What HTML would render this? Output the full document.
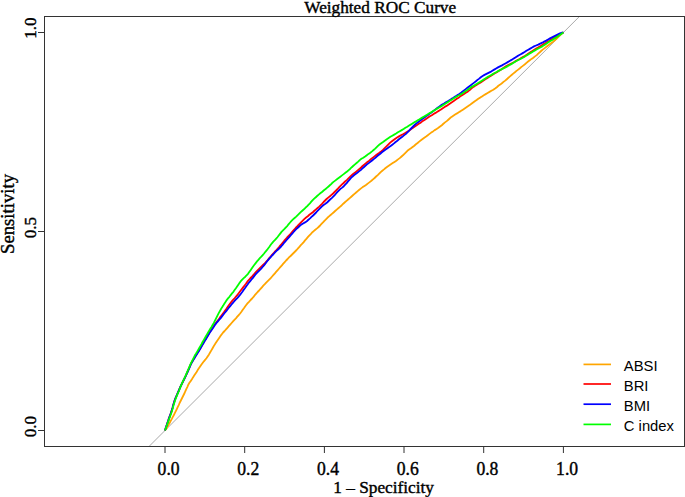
<!DOCTYPE html>
<html><head><meta charset="utf-8"><style>
html,body{margin:0;padding:0;background:#fff;width:685px;height:497px;overflow:hidden}
svg{display:block}
.s{font-family:"Liberation Serif",serif}
.a{font-family:"Liberation Sans",sans-serif}
</style></head><body>
<svg width="685" height="497" viewBox="0 0 685 497">
<rect width="685" height="497" fill="#fff"/>
<!-- diagonal -->
<line x1="149.06" y1="446.43" x2="579.34" y2="16.57" stroke="#a9a9a9" stroke-width="1"/>
<!-- frame -->
<rect x="44.5" y="16.5" width="640" height="430" fill="none" stroke="#333" stroke-width="1"/>
<!-- x ticks -->
<g stroke="#333" stroke-width="1">
<line x1="165" y1="446.5" x2="165" y2="453"/>
<line x1="244.7" y1="446.5" x2="244.7" y2="453"/>
<line x1="324.4" y1="446.5" x2="324.4" y2="453"/>
<line x1="404" y1="446.5" x2="404" y2="453"/>
<line x1="483.7" y1="446.5" x2="483.7" y2="453"/>
<line x1="563.4" y1="446.5" x2="563.4" y2="453"/>
<line x1="44.5" y1="32.5" x2="38" y2="32.5"/>
<line x1="44.5" y1="231.5" x2="38" y2="231.5"/>
<line x1="44.5" y1="430.5" x2="38" y2="430.5"/>
</g>
<g class="s" fill="#000" stroke="#000" stroke-width="0.4" text-anchor="middle">
<g font-size="17.6">
<text transform="translate(168.6,474.7) scale(1,1.05)">0.0</text>
<text transform="translate(248.3,474.7) scale(1,1.05)">0.2</text>
<text transform="translate(328,474.7) scale(1,1.05)">0.4</text>
<text transform="translate(407.7,474.7) scale(1,1.05)">0.6</text>
<text transform="translate(487.4,474.7) scale(1,1.05)">0.8</text>
<text transform="translate(567.1,474.7) scale(1,1.05)">1.0</text>
<text transform="translate(35.5,28.2) rotate(-90) scale(0.97,1)">1.0</text>
<text transform="translate(35.5,227.7) rotate(-90) scale(0.97,1)">0.5</text>
<text transform="translate(35.5,426.6) rotate(-90) scale(0.97,1)">0.0</text>
</g>
<text transform="translate(383.6,493.4)" font-size="17.3">1 <tspan dy="-0.7">–</tspan><tspan dy="0.7"> Specificity</tspan></text>
<text transform="translate(14.1,214) rotate(-90)" font-size="18.7">Sensitivity</text>
<text transform="translate(380.2,12.5)" font-size="17.25">Weighted ROC Curve</text>
</g>
<!-- legend -->
<g stroke-width="1.7">
<line x1="583.5" y1="364.4" x2="611" y2="364.4" stroke="#ffa500"/>
<line x1="583.5" y1="384" x2="611" y2="384" stroke="#ff0000"/>
<line x1="583.5" y1="404.2" x2="611" y2="404.2" stroke="#0000ff"/>
<line x1="583.5" y1="424.4" x2="611" y2="424.4" stroke="#00ff00"/>
</g>
<g class="a" font-size="14.8" fill="#000">
<text transform="translate(623.8,370.9) scale(1,1.03)">ABSI</text>
<text transform="translate(623.8,391.0) scale(1,1.03)">BRI</text>
<text transform="translate(623.8,411.3) scale(1,1.03)">BMI</text>
<text transform="translate(623.8,431.0) scale(1,1.03)">C index</text>
</g>
<!-- curves -->
<g id="curves" fill="none" stroke-width="1.8" stroke-linejoin="round">
<path d="M165.0,430.5 L166.3,428.7 L167.4,426.8 L168.5,424.9 L169.6,423.0 L170.6,421.0 L171.7,419.1 L172.7,417.1 L173.8,415.2 L174.8,413.2 L175.8,411.2 L176.8,409.2 L177.7,407.1 L178.7,405.1 L179.6,403.0 L180.6,401.0 L181.6,399.0 L182.6,397.0 L183.6,395.0 L184.6,393.0 L185.5,390.9 L186.4,388.8 L187.4,386.8 L188.3,384.7 L189.4,382.8 L190.7,381.1 L191.9,379.3 L193.0,377.4 L194.2,375.6 L195.4,373.8 L196.6,372.0 L197.7,370.1 L198.9,368.3 L200.1,366.5 L201.3,364.7 L202.6,363.0 L203.9,361.3 L205.3,359.7 L206.6,358.0 L207.8,356.2 L209.0,354.4 L210.1,352.5 L211.2,350.6 L212.3,348.7 L213.4,346.8 L214.5,344.9 L215.7,343.1 L216.9,341.3 L218.1,339.5 L219.3,337.7 L220.5,335.9 L221.8,334.2 L223.1,332.5 L224.6,331.0 L226.0,329.4 L227.4,327.8 L228.8,326.2 L230.2,324.6 L231.6,323.0 L233.0,321.4 L234.4,319.8 L235.9,318.3 L237.3,316.7 L238.7,315.1 L240.1,313.5 L241.4,311.8 L242.6,310.0 L243.9,308.3 L245.1,306.5 L246.4,304.8 L247.7,303.1 L249.2,301.6 L250.6,300.0 L252.1,298.5 L253.5,296.9 L254.8,295.2 L256.2,293.6 L257.6,292.0 L259.1,290.5 L260.5,288.9 L261.9,287.3 L263.3,285.7 L264.8,284.2 L266.2,282.6 L267.7,281.1 L269.2,279.6 L270.7,278.1 L272.1,276.5 L273.5,274.9 L274.9,273.3 L276.3,271.7 L277.7,270.1 L279.1,268.5 L280.5,266.9 L281.9,265.3 L283.3,263.7 L284.7,262.1 L286.1,260.5 L287.6,259.0 L289.0,257.4 L290.6,256.0 L292.1,254.5 L293.6,253.0 L295.1,251.5 L296.6,250.0 L298.0,248.4 L299.4,246.8 L300.8,245.2 L302.3,243.7 L303.7,242.1 L305.0,240.4 L306.4,238.8 L307.8,237.2 L309.2,235.6 L310.7,234.1 L312.1,232.5 L313.7,231.1 L315.3,229.7 L317.0,228.4 L318.6,227.0 L320.1,225.5 L321.5,223.9 L323.0,222.4 L324.4,220.8 L325.9,219.3 L327.4,217.8 L329.0,216.4 L330.6,215.0 L332.2,213.6 L333.8,212.2 L335.4,210.8 L337.0,209.4 L338.6,208.0 L340.2,206.6 L341.8,205.2 L343.3,203.7 L344.9,202.3 L346.5,200.9 L348.1,199.5 L349.7,198.1 L351.3,196.7 L352.9,195.3 L354.5,193.9 L356.1,192.5 L357.7,191.1 L359.3,189.7 L361.0,188.4 L362.7,187.1 L364.5,185.9 L366.3,184.7 L368.0,183.4 L369.7,182.1 L371.4,180.8 L373.0,179.4 L374.6,178.0 L376.1,176.5 L377.7,175.1 L379.2,173.6 L380.7,172.1 L382.3,170.7 L384.0,169.4 L385.6,168.0 L387.3,166.7 L389.1,165.5 L390.9,164.3 L392.7,163.1 L394.5,161.9 L396.3,160.7 L398.0,159.4 L399.7,158.1 L401.3,156.7 L402.9,155.3 L404.4,153.8 L405.9,152.3 L407.4,150.8 L409.1,149.5 L410.9,148.3 L412.6,147.0 L414.3,145.7 L415.9,144.3 L417.6,143.0 L419.2,141.6 L420.9,140.3 L422.6,139.0 L424.3,137.7 L426.1,136.5 L427.8,135.2 L429.5,133.9 L431.2,132.6 L433.0,131.4 L434.7,130.1 L436.6,129.0 L438.4,127.8 L440.1,126.5 L441.8,125.2 L443.4,123.8 L445.0,122.4 L446.7,121.1 L448.3,119.7 L449.9,118.3 L451.5,116.9 L453.3,115.7 L455.1,114.5 L457.0,113.4 L458.8,112.2 L460.7,111.1 L462.5,109.9 L464.3,108.7 L466.1,107.5 L467.9,106.3 L469.7,105.1 L471.4,103.8 L473.1,102.5 L474.8,101.2 L476.6,100.0 L478.3,98.7 L480.2,97.6 L482.0,96.4 L483.8,95.2 L485.7,94.1 L487.6,93.0 L489.5,91.9 L491.4,90.8 L493.3,89.7 L495.1,88.5 L496.8,87.2 L498.4,85.8 L500.2,84.6 L501.9,83.3 L503.5,81.9 L505.2,80.6 L506.8,79.2 L508.4,77.8 L510.0,76.4 L511.6,75.0 L513.2,73.6 L514.9,72.3 L516.5,70.9 L518.2,69.6 L519.9,68.3 L521.5,66.9 L523.2,65.6 L524.9,64.3 L526.5,62.9 L528.1,61.5 L529.8,60.2 L531.5,58.9 L533.3,57.7 L535.0,56.4 L536.7,55.1 L538.2,53.6 L539.8,52.2 L541.4,50.8 L543.0,49.4 L544.7,48.1 L546.4,46.8 L548.1,45.5 L549.8,44.2 L551.5,42.9 L553.2,41.6 L554.8,40.2 L556.4,38.8 L557.9,37.3 L559.5,35.9 L561.0,34.4 L562.5,32.9 L563.4,32.5" stroke="#ffa500"/>
<path d="M165.0,430.5 L165.7,428.1 L166.5,425.9 L167.2,423.6 L168.0,421.4 L168.7,419.1 L169.5,416.9 L170.3,414.7 L171.1,412.5 L171.8,410.2 L172.5,407.9 L173.1,405.5 L173.8,403.2 L174.5,400.9 L175.3,398.7 L176.2,396.6 L177.1,394.5 L178.0,392.4 L178.9,390.3 L179.8,388.2 L180.7,386.1 L181.7,384.1 L182.7,382.1 L183.7,380.1 L184.7,378.1 L185.6,376.0 L186.6,374.0 L187.5,371.9 L188.4,369.8 L189.3,367.7 L190.2,365.6 L191.1,363.5 L192.2,361.6 L193.3,359.7 L194.4,357.8 L195.5,355.9 L196.7,354.1 L197.8,352.2 L199.0,350.4 L200.1,348.5 L201.2,346.6 L202.3,344.7 L203.4,342.8 L204.5,340.9 L205.6,339.0 L206.7,337.1 L207.8,335.2 L209.0,333.4 L210.1,331.5 L211.3,329.7 L212.5,327.9 L213.7,326.1 L214.9,324.3 L216.2,322.6 L217.5,320.9 L218.8,319.2 L220.0,317.4 L221.3,315.7 L222.6,314.0 L223.9,312.3 L225.1,310.5 L226.4,308.8 L227.6,307.0 L228.8,305.2 L230.1,303.5 L231.4,301.8 L232.8,300.2 L234.3,298.7 L235.6,297.0 L237.0,295.4 L238.3,293.7 L239.6,292.0 L240.9,290.3 L242.2,288.6 L243.5,286.9 L244.8,285.2 L246.1,283.5 L247.3,281.7 L248.7,280.1 L250.1,278.5 L251.6,277.0 L253.0,275.4 L254.4,273.8 L255.8,272.2 L257.3,270.7 L258.8,269.2 L260.3,267.7 L261.8,266.2 L263.3,264.7 L264.9,263.3 L266.3,261.7 L267.7,260.1 L269.0,258.4 L270.4,256.8 L271.8,255.2 L273.2,253.6 L274.6,252.0 L276.1,250.5 L277.5,248.9 L278.9,247.3 L280.2,245.6 L281.6,244.0 L283.0,242.4 L284.3,240.7 L285.7,239.1 L287.1,237.5 L288.6,236.0 L290.1,234.5 L291.4,232.8 L292.8,231.2 L294.2,229.6 L295.6,228.0 L297.1,226.5 L298.5,224.9 L300.0,223.4 L301.5,221.9 L303.0,220.4 L304.5,218.9 L306.1,217.5 L307.8,216.2 L309.4,214.8 L311.1,213.5 L312.8,212.2 L314.4,210.8 L316.0,209.4 L317.6,208.0 L319.2,206.6 L320.7,205.1 L322.2,203.6 L323.6,202.0 L325.1,200.5 L326.6,199.0 L328.2,197.6 L329.9,196.3 L331.5,194.9 L333.1,193.5 L334.6,192.0 L336.1,190.5 L337.6,189.0 L339.0,187.4 L340.5,185.9 L342.0,184.4 L343.6,183.0 L345.1,181.5 L346.7,180.1 L348.2,178.6 L349.7,177.1 L351.2,175.6 L352.8,174.2 L354.5,172.9 L356.2,171.6 L357.9,170.3 L359.5,168.9 L361.1,167.5 L362.6,166.0 L364.2,164.6 L365.9,163.3 L367.5,161.9 L369.2,160.6 L370.8,159.2 L372.5,157.9 L374.2,156.6 L375.9,155.3 L377.6,154.0 L379.4,152.8 L381.1,151.5 L382.7,150.1 L384.2,148.6 L385.7,147.1 L387.2,145.6 L388.7,144.1 L390.2,142.6 L391.9,141.3 L393.6,140.0 L395.3,138.7 L397.1,137.5 L399.0,136.4 L400.9,135.3 L402.9,134.3 L404.8,133.2 L406.7,132.1 L408.5,130.9 L410.3,129.7 L412.0,128.4 L413.8,127.2 L415.6,126.0 L417.4,124.8 L419.2,123.6 L421.0,122.4 L422.7,121.1 L424.5,119.9 L426.3,118.7 L428.1,117.5 L429.9,116.3 L431.8,115.2 L433.6,114.0 L435.5,112.9 L437.3,111.7 L439.2,110.6 L441.0,109.4 L442.8,108.2 L444.6,107.0 L446.5,105.9 L448.3,104.7 L450.1,103.5 L451.9,102.3 L453.7,101.1 L455.4,99.8 L457.2,98.6 L459.0,97.4 L460.7,96.1 L462.5,94.9 L464.4,93.8 L466.2,92.6 L468.0,91.4 L469.7,90.1 L471.2,88.6 L472.8,87.2 L474.7,86.1 L476.5,84.9 L478.4,83.8 L480.3,82.7 L482.1,81.5 L483.9,80.3 L485.7,79.1 L487.5,77.9 L489.3,76.7 L491.2,75.6 L493.0,74.4 L494.9,73.3 L496.8,72.2 L498.6,71.0 L500.5,69.9 L502.3,68.7 L504.1,67.5 L505.9,66.3 L507.8,65.2 L509.8,64.2 L511.8,63.2 L513.8,62.2 L515.7,61.1 L517.6,60.0 L519.6,59.0 L521.5,57.9 L523.4,56.8 L525.3,55.7 L527.1,54.5 L528.9,53.3 L530.7,52.1 L532.5,50.9 L534.3,49.7 L536.2,48.6 L538.1,47.5 L540.0,46.4 L541.8,45.2 L543.7,44.1 L545.6,43.0 L547.4,41.8 L549.3,40.7 L551.1,39.5 L553.0,38.4 L554.9,37.3 L556.7,36.1 L558.6,35.0 L560.6,34.0 L562.5,32.9 L563.4,32.5" stroke="#ff0000"/>
<path d="M165.0,430.5 L165.7,428.1 L166.5,425.9 L167.2,423.6 L168.0,421.4 L168.7,419.1 L169.5,416.9 L170.3,414.7 L171.1,412.5 L171.8,410.2 L172.5,407.9 L173.1,405.5 L173.8,403.2 L174.5,400.9 L175.3,398.7 L176.2,396.6 L177.1,394.5 L178.0,392.4 L178.9,390.3 L179.8,388.2 L180.7,386.1 L181.7,384.1 L182.7,382.1 L183.7,380.1 L184.7,378.1 L185.7,376.1 L186.6,374.0 L187.6,372.0 L188.5,369.9 L189.4,367.8 L190.3,365.7 L191.2,363.6 L192.3,361.7 L193.4,359.8 L194.6,358.0 L195.7,356.1 L196.9,354.3 L198.0,352.4 L199.2,350.6 L200.3,348.7 L201.4,346.8 L202.5,344.9 L203.6,343.0 L204.7,341.1 L205.9,339.3 L207.0,337.4 L208.1,335.5 L209.2,333.6 L210.4,331.8 L211.6,330.0 L212.8,328.2 L214.0,326.4 L215.2,324.6 L216.5,322.9 L217.9,321.3 L219.3,319.7 L220.7,318.1 L222.0,316.4 L223.3,314.7 L224.6,313.0 L226.0,311.4 L227.3,309.7 L228.6,308.0 L230.0,306.4 L231.3,304.7 L232.7,303.1 L234.1,301.5 L235.5,299.9 L237.0,298.4 L238.4,296.8 L239.8,295.2 L241.1,293.5 L242.4,291.8 L243.6,290.0 L244.9,288.3 L246.1,286.5 L247.4,284.8 L248.6,283.0 L250.0,281.4 L251.3,279.7 L252.7,278.1 L254.0,276.4 L255.3,274.7 L256.7,273.1 L258.2,271.6 L259.7,270.1 L261.2,268.6 L262.6,267.0 L264.0,265.4 L265.3,263.7 L266.6,262.0 L267.9,260.3 L269.3,258.7 L270.7,257.1 L272.1,255.5 L273.6,254.0 L275.0,252.4 L276.5,250.9 L278.1,249.5 L279.6,248.0 L281.1,246.5 L282.5,244.9 L283.8,243.2 L285.2,241.6 L286.6,240.0 L288.0,238.4 L289.4,236.8 L290.8,235.2 L292.2,233.6 L293.6,232.0 L295.0,230.4 L296.5,228.9 L298.1,227.5 L299.6,226.0 L301.2,224.6 L303.1,223.5 L305.0,222.4 L306.8,221.2 L308.4,219.8 L310.0,218.4 L311.5,216.9 L313.1,215.5 L314.6,214.0 L316.1,212.5 L317.5,210.9 L319.0,209.4 L320.5,207.9 L322.0,206.4 L323.6,205.0 L325.4,203.8 L327.1,202.5 L328.6,201.0 L330.1,199.5 L331.7,198.1 L333.2,196.6 L334.7,195.1 L336.1,193.5 L337.5,191.9 L339.0,190.4 L340.5,188.9 L342.2,187.6 L343.8,186.2 L345.2,184.6 L346.7,183.1 L348.0,181.4 L349.4,179.8 L350.8,178.2 L352.3,176.7 L353.9,175.3 L355.6,174.0 L357.3,172.7 L359.0,171.4 L360.7,170.1 L362.2,168.6 L363.8,167.2 L365.4,165.8 L367.0,164.4 L368.7,163.1 L370.4,161.8 L372.1,160.5 L373.7,159.1 L375.4,157.8 L377.0,156.4 L378.6,155.0 L380.3,153.7 L381.9,152.3 L383.6,151.0 L385.3,149.7 L387.1,148.5 L388.8,147.2 L390.6,146.0 L392.3,144.7 L394.0,143.4 L395.6,142.0 L397.3,140.7 L398.9,139.3 L400.6,138.0 L402.3,136.7 L404.0,135.4 L405.7,134.1 L407.2,132.6 L408.7,131.1 L410.1,129.5 L411.6,128.0 L413.1,126.5 L414.6,125.0 L416.2,123.6 L417.9,122.3 L419.6,121.0 L421.3,119.7 L423.0,118.4 L424.8,117.2 L426.5,115.9 L428.3,114.7 L430.0,113.4 L431.8,112.2 L433.5,110.9 L435.2,109.6 L436.9,108.3 L438.7,107.1 L440.4,105.8 L442.2,104.6 L444.1,103.5 L445.9,102.3 L447.8,101.2 L449.7,100.1 L451.5,98.9 L453.4,97.8 L455.2,96.6 L457.0,95.4 L458.9,94.3 L460.7,93.1 L462.3,91.7 L464.0,90.4 L465.7,89.1 L467.4,87.8 L469.1,86.5 L470.8,85.2 L472.5,83.9 L474.2,82.6 L475.9,81.3 L477.5,79.9 L479.2,78.6 L480.8,77.2 L482.6,76.0 L484.5,74.9 L486.5,73.9 L488.5,72.9 L490.5,71.9 L492.3,70.7 L494.2,69.6 L496.1,68.5 L498.0,67.4 L500.0,66.4 L502.0,65.4 L503.9,64.3 L505.8,63.2 L507.7,62.1 L509.6,61.0 L511.5,59.9 L513.3,58.7 L515.2,57.6 L517.0,56.4 L518.9,55.3 L520.8,54.2 L522.7,53.1 L524.6,52.0 L526.4,50.8 L528.3,49.7 L530.2,48.6 L532.1,47.5 L534.0,46.4 L536.1,45.5 L538.2,44.6 L540.2,43.6 L542.3,42.7 L544.2,41.6 L546.2,40.6 L548.1,39.5 L550.0,38.4 L552.0,37.4 L554.0,36.4 L556.0,35.4 L558.0,34.4 L560.0,33.4 L562.2,32.6 L563.4,32.5" stroke="#0000ff"/>
<path d="M165.0,430.5 L165.8,428.2 L166.6,426.0 L167.4,423.8 L168.2,421.6 L169.0,419.4 L169.8,417.2 L170.6,415.0 L171.4,412.8 L172.1,410.5 L172.8,408.2 L173.4,405.8 L174.1,403.5 L174.8,401.2 L175.6,399.0 L176.4,396.8 L177.3,394.7 L178.2,392.6 L179.1,390.5 L179.9,388.3 L180.8,386.2 L181.7,384.1 L182.6,382.0 L183.6,380.0 L184.5,377.9 L185.5,375.9 L186.4,373.8 L187.3,371.7 L188.2,369.6 L189.1,367.5 L190.0,365.4 L190.9,363.3 L191.9,361.3 L192.9,359.3 L193.9,357.3 L194.9,355.3 L196.1,353.5 L197.2,351.6 L198.3,349.7 L199.4,347.8 L200.5,345.9 L201.6,344.0 L202.6,342.0 L203.7,340.1 L204.8,338.2 L205.9,336.3 L207.0,334.4 L208.1,332.5 L209.2,330.6 L210.3,328.7 L211.5,326.9 L212.6,325.0 L213.7,323.1 L214.7,321.1 L215.7,319.1 L216.7,317.1 L217.7,315.1 L218.7,313.1 L219.8,311.2 L220.9,309.3 L222.0,307.4 L223.2,305.6 L224.3,303.7 L225.5,301.9 L226.7,300.1 L228.0,298.4 L229.4,296.8 L230.7,295.1 L232.0,293.4 L233.4,291.8 L234.6,290.0 L235.9,288.3 L237.1,286.5 L238.3,284.7 L239.5,282.9 L240.8,281.2 L242.2,279.6 L243.7,278.1 L245.3,276.7 L246.8,275.2 L248.2,273.6 L249.4,271.8 L250.7,270.1 L251.9,268.3 L253.1,266.5 L254.4,264.8 L255.7,263.1 L257.0,261.4 L258.4,259.8 L259.8,258.2 L261.3,256.7 L262.7,255.1 L264.1,253.5 L265.4,251.8 L266.8,250.2 L268.1,248.5 L269.4,246.8 L270.6,245.0 L271.9,243.3 L273.3,241.7 L274.8,240.2 L276.2,238.6 L277.6,237.0 L278.9,235.3 L280.2,233.6 L281.5,231.9 L283.0,230.4 L284.5,228.9 L285.9,227.3 L287.4,225.8 L288.7,224.1 L290.1,222.5 L291.5,220.9 L293.0,219.4 L294.6,218.0 L296.2,216.6 L297.7,215.1 L299.2,213.6 L300.7,212.1 L302.3,210.7 L303.9,209.3 L305.4,207.8 L307.0,206.4 L308.4,204.8 L309.9,203.3 L311.3,201.7 L312.7,200.1 L314.2,198.6 L315.8,197.2 L317.4,195.8 L319.0,194.4 L320.6,193.0 L322.3,191.7 L323.9,190.3 L325.6,189.0 L327.2,187.6 L328.8,186.2 L330.4,184.8 L331.9,183.3 L333.5,181.9 L335.2,180.6 L336.9,179.3 L338.6,178.0 L340.3,176.7 L342.0,175.4 L343.7,174.1 L345.4,172.8 L347.1,171.5 L348.7,170.1 L350.3,168.7 L351.8,167.2 L353.4,165.8 L355.0,164.4 L356.6,163.0 L358.2,161.6 L359.7,160.1 L361.4,158.8 L363.3,157.7 L365.1,156.5 L366.8,155.2 L368.5,153.9 L370.3,152.7 L372.0,151.4 L373.6,150.0 L375.2,148.6 L376.7,147.1 L378.2,145.6 L379.8,144.2 L381.6,143.0 L383.4,141.8 L385.1,140.5 L386.8,139.2 L388.6,138.0 L390.4,136.8 L392.3,135.7 L394.2,134.6 L396.1,133.5 L397.9,132.3 L399.8,131.2 L401.7,130.1 L403.6,129.0 L405.4,127.8 L407.3,126.7 L409.1,125.5 L411.0,124.4 L412.8,123.2 L414.7,122.1 L416.6,121.0 L418.5,119.9 L420.3,118.7 L422.2,117.6 L424.1,116.5 L426.0,115.4 L427.8,114.2 L429.7,113.1 L431.6,112.0 L433.5,110.9 L435.4,109.8 L437.2,108.6 L439.1,107.5 L441.0,106.4 L442.8,105.2 L444.7,104.1 L446.5,102.9 L448.4,101.8 L450.2,100.6 L452.0,99.4 L453.8,98.2 L455.7,97.1 L457.6,96.0 L459.6,95.0 L461.5,93.9 L463.3,92.7 L465.1,91.5 L466.9,90.3 L468.6,89.0 L470.4,87.8 L472.2,86.6 L474.1,85.5 L476.0,84.4 L477.8,83.2 L479.7,82.1 L481.5,80.9 L483.3,79.7 L485.2,78.6 L487.0,77.4 L488.9,76.3 L490.8,75.2 L492.7,74.1 L494.6,73.0 L496.6,72.0 L498.5,70.9 L500.5,69.9 L502.4,68.8 L504.5,67.9 L506.5,66.9 L508.4,65.8 L510.3,64.7 L512.2,63.6 L514.0,62.4 L515.9,61.3 L517.9,60.3 L519.9,59.3 L521.8,58.2 L523.8,57.2 L525.6,56.0 L527.5,54.9 L529.3,53.7 L531.2,52.6 L533.1,51.5 L535.0,50.4 L536.9,49.3 L538.8,48.2 L540.8,47.2 L542.7,46.1 L544.5,44.9 L546.3,43.7 L548.1,42.5 L549.9,41.3 L551.8,40.2 L553.6,39.0 L555.5,37.9 L557.3,36.7 L559.1,35.5 L560.9,34.3 L562.6,33.0 L563.4,32.5" stroke="#00ff00"/>
</g>
</svg>
</body></html>
